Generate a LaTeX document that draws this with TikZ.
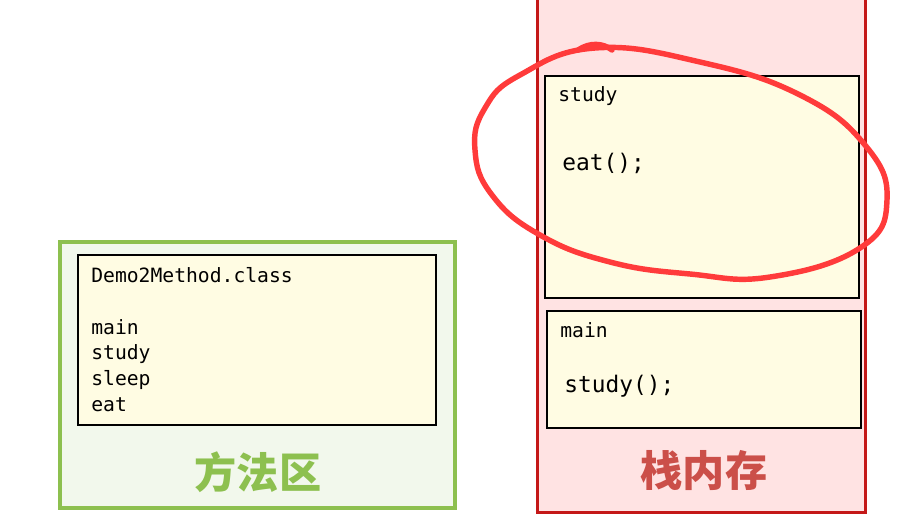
\documentclass[tikz,border=0pt]{standalone}
\usepackage{fontspec}
\newfontfamily\codefont{DejaVu Sans Mono}
\newfontfamily\cjk{Noto Sans CJK SC}
\usetikzlibrary{positioning}
\definecolor{areagreen}{HTML}{8DC04F}
\definecolor{areagreenbg}{HTML}{F2F8EC}
\definecolor{framebg}{HTML}{FFFCE3}
\definecolor{stackred}{HTML}{C41818}
\definecolor{stackbg}{HTML}{FFE3E3}
\definecolor{stacklabel}{HTML}{CB4F49}
\definecolor{markred}{HTML}{FF3B3B}

\begin{document}
\begin{tikzpicture}[
    x=0.02cm, y=-0.02cm,
    area/.style={rectangle, inner sep=0pt},
    methodarea/.style={area, draw=areagreen, fill=areagreenbg, line width=2.2pt},
    stackarea/.style={area, draw=stackred, fill=stackbg, line width=1.7pt},
    frame/.style={area, draw=black, fill=framebg, line width=0.9pt},
    code/.style={inner sep=0pt, anchor=base west, font=\codefont\fontsize{11.2}{14.7}\selectfont},
    bigcode/.style={code, font=\codefont\fontsize{13}{16}\selectfont},
    arealabel/.style={inner sep=0pt, font=\cjk\bfseries\fontsize{24}{26}\selectfont},
    circlemark/.style={draw=markred, line width=3.1pt, line cap=round, line join=round}
]
\useasboundingbox (0,0) rectangle (917,528);
\clip (0,0) rectangle (917,528);

% --- Methodenbereich ---
\node[methodarea, minimum width=7.9cm, minimum height=5.32cm] (methodbox) at (257.5,375) {};
\node[frame, minimum width=7.16cm, minimum height=3.4cm] (classframe) at (257,340) {};
\node[code, anchor=north west, align=left] (classtext) at (91,267)
    {Demo2Method.class\\[14.7pt]main\\study\\sleep\\eat};
\node[arealabel, text=areagreen] (methodlabel) at (258,472) {方法区};

% --- Stapelspeicher ---
\node[stackarea, minimum width=6.58cm, minimum height=10.36cm] (stackbox) at (701.5,254) {};
\node[frame, minimum width=6.28cm, minimum height=4.44cm] (studyframe) at (702,187) {};
\node[frame, minimum width=6.28cm, minimum height=2.34cm] (mainframe) at (704,369.5) {};
\node[code] (studyname) at (558,101) {study};
\node[bigcode] (eatcall) at (562,170) {eat();};
\node[code] (mainname) at (560,337) {main};
\node[bigcode] (studycall) at (564,392) {study();};
\node[arealabel, text=stacklabel] (stacklabel) at (704,470) {栈内存};

% --- Markierung ---
\draw[circlemark] plot[smooth cycle, tension=0.75] coordinates {
    (595,48) (700,62) (800,95) (865,145) (887,200) (860,248)
    (770,277) (690,274) (610,262) (540,235) (492,195) (475,150)
    (485,108) (520,75)};
\draw[circlemark] (578,50) .. controls (590,42) and (603,43) .. (612,50);

\end{tikzpicture}
\end{document}
